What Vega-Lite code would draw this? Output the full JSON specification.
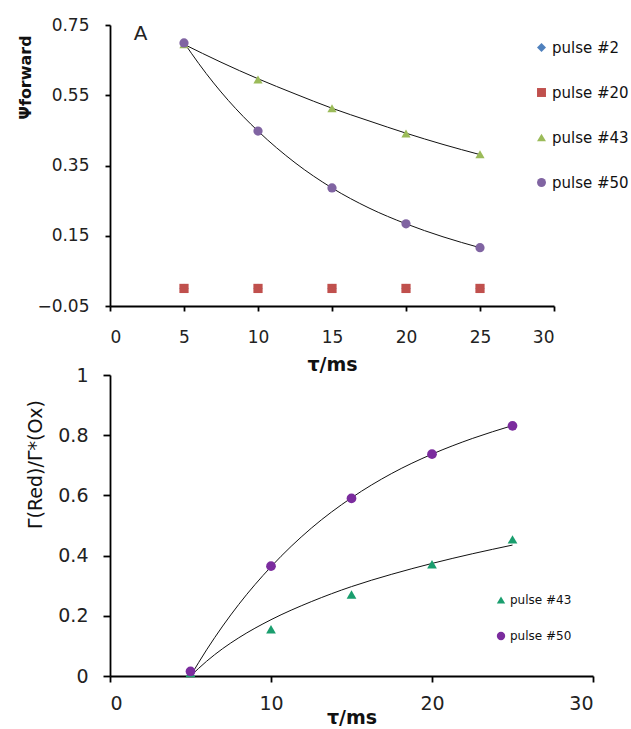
{
  "$schema": "https://vega.github.io/schema/vega-lite/v6.json",
  "padding": {"left": 17, "top": 16, "right": 0, "bottom": 0},
  "spacing": -8,
  "resolve": {
    "scale": {"color": "independent", "shape": "independent"},
    "legend": {"color": "independent", "shape": "independent"}
  },
  "config": {
    "font": "DejaVu Sans",
    "view": {"stroke": null},
    "axis": {
      "grid": false,
      "domainColor": "#000000",
      "domainWidth": 1.8,
      "tickColor": "#000000",
      "tickWidth": 1.8,
      "labelColor": "#222222",
      "titleColor": "#111111",
      "labelFont": "DejaVu Sans",
      "titleFont": "DejaVu Sans"
    },
    "legend": {"labelFont": "DejaVu Sans", "labelColor": "#111111"}
  },
  "datasets": {
    "forward": [
      {"tau": 5, "value": 0.0, "series": "pulse #2"},
      {"tau": 10, "value": 0.0, "series": "pulse #2"},
      {"tau": 15, "value": 0.0, "series": "pulse #2"},
      {"tau": 20, "value": 0.0, "series": "pulse #2"},
      {"tau": 25, "value": 0.0, "series": "pulse #2"},
      {"tau": 5, "value": 0.0, "series": "pulse #20"},
      {"tau": 10, "value": 0.0, "series": "pulse #20"},
      {"tau": 15, "value": 0.0, "series": "pulse #20"},
      {"tau": 20, "value": 0.0, "series": "pulse #20"},
      {"tau": 25, "value": 0.0, "series": "pulse #20"},
      {"tau": 5, "value": 0.695, "series": "pulse #43"},
      {"tau": 10, "value": 0.595, "series": "pulse #43"},
      {"tau": 15, "value": 0.513, "series": "pulse #43"},
      {"tau": 20, "value": 0.441, "series": "pulse #43"},
      {"tau": 25, "value": 0.382, "series": "pulse #43"},
      {"tau": 5, "value": 0.699, "series": "pulse #50"},
      {"tau": 10, "value": 0.448, "series": "pulse #50"},
      {"tau": 15, "value": 0.286, "series": "pulse #50"},
      {"tau": 20, "value": 0.184, "series": "pulse #50"},
      {"tau": 25, "value": 0.116, "series": "pulse #50"}
    ],
    "forwardFit": [
      {"tau": 5, "value": 0.695, "series": "pulse #43"},
      {"tau": 7.5, "value": 0.644, "series": "pulse #43"},
      {"tau": 10, "value": 0.597, "series": "pulse #43"},
      {"tau": 12.5, "value": 0.554, "series": "pulse #43"},
      {"tau": 15, "value": 0.513, "series": "pulse #43"},
      {"tau": 17.5, "value": 0.477, "series": "pulse #43"},
      {"tau": 20, "value": 0.442, "series": "pulse #43"},
      {"tau": 22.5, "value": 0.41, "series": "pulse #43"},
      {"tau": 25, "value": 0.381, "series": "pulse #43"},
      {"tau": 5, "value": 0.7, "series": "pulse #50"},
      {"tau": 6, "value": 0.64, "series": "pulse #50"},
      {"tau": 7, "value": 0.585, "series": "pulse #50"},
      {"tau": 8, "value": 0.535, "series": "pulse #50"},
      {"tau": 10, "value": 0.448, "series": "pulse #50"},
      {"tau": 12.5, "value": 0.358, "series": "pulse #50"},
      {"tau": 15, "value": 0.286, "series": "pulse #50"},
      {"tau": 17.5, "value": 0.229, "series": "pulse #50"},
      {"tau": 20, "value": 0.184, "series": "pulse #50"},
      {"tau": 22.5, "value": 0.147, "series": "pulse #50"},
      {"tau": 25, "value": 0.116, "series": "pulse #50"}
    ],
    "ratio": [
      {"tau": 5, "value": 0.01, "series": "pulse #43"},
      {"tau": 10, "value": 0.155, "series": "pulse #43"},
      {"tau": 15, "value": 0.271, "series": "pulse #43"},
      {"tau": 20, "value": 0.371, "series": "pulse #43"},
      {"tau": 25, "value": 0.454, "series": "pulse #43"},
      {"tau": 5, "value": 0.015, "series": "pulse #50"},
      {"tau": 10, "value": 0.365, "series": "pulse #50"},
      {"tau": 15, "value": 0.59, "series": "pulse #50"},
      {"tau": 20, "value": 0.737, "series": "pulse #50"},
      {"tau": 25, "value": 0.831, "series": "pulse #50"}
    ],
    "ratioFit": [
      {"tau": 5, "value": 0.0, "series": "pulse #43"},
      {"tau": 6, "value": 0.049, "series": "pulse #43"},
      {"tau": 7, "value": 0.091, "series": "pulse #43"},
      {"tau": 8, "value": 0.127, "series": "pulse #43"},
      {"tau": 10, "value": 0.187, "series": "pulse #43"},
      {"tau": 12.5, "value": 0.247, "series": "pulse #43"},
      {"tau": 15, "value": 0.297, "series": "pulse #43"},
      {"tau": 17.5, "value": 0.338, "series": "pulse #43"},
      {"tau": 20, "value": 0.374, "series": "pulse #43"},
      {"tau": 22.5, "value": 0.406, "series": "pulse #43"},
      {"tau": 25, "value": 0.435, "series": "pulse #43"},
      {"tau": 5, "value": 0.0, "series": "pulse #50"},
      {"tau": 6, "value": 0.087, "series": "pulse #50"},
      {"tau": 7, "value": 0.166, "series": "pulse #50"},
      {"tau": 8, "value": 0.238, "series": "pulse #50"},
      {"tau": 10, "value": 0.363, "series": "pulse #50"},
      {"tau": 12.5, "value": 0.491, "series": "pulse #50"},
      {"tau": 15, "value": 0.592, "series": "pulse #50"},
      {"tau": 17.5, "value": 0.673, "series": "pulse #50"},
      {"tau": 20, "value": 0.737, "series": "pulse #50"},
      {"tau": 22.5, "value": 0.789, "series": "pulse #50"},
      {"tau": 25, "value": 0.832, "series": "pulse #50"}
    ],
    "panelLabel": [
      {"tau": 1.6, "value": 0.725, "label": "A"}
    ]
  },
  "vconcat": [
    {
      "width": 444,
      "height": 281,
      "layer": [
        {
          "data": {"name": "forwardFit"},
          "mark": {"type": "line", "color": "#111111", "strokeWidth": 1, "interpolate": "monotone"},
          "encoding": {
            "x": {"field": "tau", "type": "quantitative"},
            "y": {"field": "value", "type": "quantitative"},
            "detail": {"field": "series"}
          }
        },
        {
          "data": {"name": "forward"},
          "mark": {"type": "point", "filled": true, "opacity": 1, "size": 85},
          "encoding": {
            "x": {
              "field": "tau", "type": "quantitative",
              "scale": {"domain": [0, 30], "nice": false},
              "axis": {
                "values": [0, 5, 10, 15, 20, 25, 30],
                "title": "τ/ms",
                "titleFontSize": 19, "titleFontWeight": "bold",
                "labelFontSize": 17, "labelPadding": 18,
                "tickSize": 5, "titlePadding": 10
              }
            },
            "y": {
              "field": "value", "type": "quantitative",
              "scale": {"domain": [-0.05, 0.75], "nice": false, "zero": false},
              "axis": {
                "values": [-0.05, 0.15, 0.35, 0.55, 0.75],
                "format": ".2f",
                "title": "Ψforward",
                "titleFontSize": 16, "titleFontWeight": "bold",
                "titleY": 52,
                "labelFontSize": 17, "labelPadding": 16,
                "tickSize": 5, "titlePadding": 3
              }
            },
            "color": {
              "field": "series", "type": "nominal",
              "scale": {
                "domain": ["pulse #2", "pulse #20", "pulse #43", "pulse #50"],
                "range": ["#4F81BD", "#C0504D", "#9BBB59", "#8064A2"]
              },
              "legend": {
                "title": null, "orient": "none", "legendX": 424, "legendY": 15,
                "labelFontSize": 15, "rowPadding": 29, "symbolSize": 80,
                "padding": 0, "labelOffset": 3
              }
            },
            "shape": {
              "field": "series", "type": "nominal",
              "scale": {
                "domain": ["pulse #2", "pulse #20", "pulse #43", "pulse #50"],
                "range": ["diamond", "square", "triangle-up", "circle"]
              },
              "legend": {
                "title": null, "orient": "none", "legendX": 424, "legendY": 15,
                "labelFontSize": 15, "rowPadding": 29, "symbolSize": 80,
                "padding": 0, "labelOffset": 3
              }
            }
          }
        },
        {
          "data": {"name": "panelLabel"},
          "mark": {"type": "text", "fontSize": 20, "color": "#222222", "align": "left", "baseline": "middle"},
          "encoding": {
            "x": {"field": "tau", "type": "quantitative"},
            "y": {"field": "value", "type": "quantitative"},
            "text": {"field": "label"}
          }
        }
      ]
    },
    {
      "width": 483,
      "height": 301,
      "layer": [
        {
          "data": {"name": "ratioFit"},
          "mark": {"type": "line", "color": "#111111", "strokeWidth": 1, "interpolate": "monotone"},
          "encoding": {
            "x": {"field": "tau", "type": "quantitative"},
            "y": {"field": "value", "type": "quantitative"},
            "detail": {"field": "series"}
          }
        },
        {
          "data": {"name": "ratio"},
          "mark": {"type": "point", "filled": true, "opacity": 1, "size": 95},
          "encoding": {
            "x": {
              "field": "tau", "type": "quantitative",
              "scale": {"domain": [0, 30], "nice": false},
              "axis": {
                "values": [0, 10, 20, 30],
                "title": "τ/ms",
                "titleFontSize": 19, "titleFontWeight": "bold",
                "labelFontSize": 19, "labelPadding": 12,
                "tickSize": 6, "titlePadding": -5
              }
            },
            "y": {
              "field": "value", "type": "quantitative",
              "scale": {"domain": [0, 1], "nice": false},
              "axis": {
                "values": [0, 0.2, 0.4, 0.6, 0.8, 1],
                "format": "~g",
                "title": "Γ(Red)/Γ*(Ox)",
                "titleFontSize": 19, "titleFontWeight": "normal",
                "titleY": 89,
                "labelFontSize": 19, "labelPadding": 15,
                "tickSize": 7, "titlePadding": 12
              }
            },
            "color": {
              "field": "series", "type": "nominal",
              "scale": {
                "domain": ["pulse #43", "pulse #50"],
                "range": ["#1A9E6E", "#7B2C9E"]
              },
              "legend": {
                "title": null, "orient": "none", "legendX": 385, "legendY": 219,
                "labelFontSize": 12, "rowPadding": 24, "symbolSize": 70,
                "padding": 0, "labelOffset": 3
              }
            },
            "shape": {
              "field": "series", "type": "nominal",
              "scale": {
                "domain": ["pulse #43", "pulse #50"],
                "range": ["triangle-up", "circle"]
              },
              "legend": {
                "title": null, "orient": "none", "legendX": 385, "legendY": 219,
                "labelFontSize": 12, "rowPadding": 24, "symbolSize": 70,
                "padding": 0, "labelOffset": 3
              }
            }
          }
        }
      ]
    }
  ]
}
